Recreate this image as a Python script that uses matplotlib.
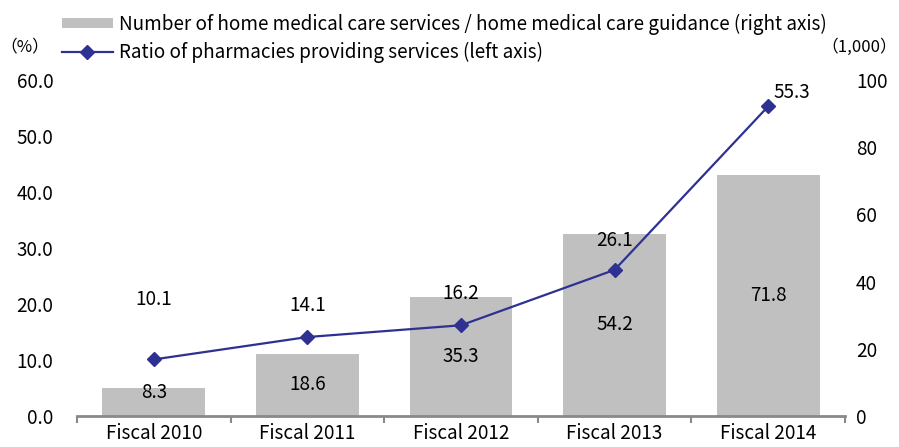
import matplotlib
matplotlib.use("Agg")
import matplotlib.pyplot as plt
import numpy as np

plt.rcParams['font.family'] = ['Noto Sans CJK JP', 'DejaVu Sans']

categories = ["Fiscal 2010", "Fiscal 2011", "Fiscal 2012", "Fiscal 2013", "Fiscal 2014"]
services_k = [8.3, 18.6, 35.3, 54.2, 71.8]       # right axis (1,000)
ratio_pct = [10.1, 14.1, 16.2, 26.1, 55.3]       # left axis (%)
left_ticks = [0, 10, 20, 30, 40, 50, 60]
right_ticks = [0, 20, 40, 60, 80, 100]

bar_color = "#C0C0C0"
line_color = "#2E3192"
fs = 13.6

fig = plt.figure(figsize=(8.99, 4.47), dpi=100)
ax = fig.add_axes([77/899, 31/447, (845-77)/899, (416-80)/447])
ax2 = ax.twinx()

x = np.arange(len(categories))
ax2.bar(x, services_k, width=0.67, color=bar_color, zorder=1,
        label="Number of home medical care services / home medical care guidance (right axis)")
ax2.set_ylim(0, 100)
ax2.set_yticks(right_ticks)
ax2.set_yticklabels([str(t) for t in right_ticks], fontsize=fs)

ax.set_zorder(ax2.get_zorder() + 1)
ax.patch.set_visible(False)
ax.plot(x, ratio_pct, color=line_color, lw=1.6, marker="D", markersize=7,
        label="Ratio of pharmacies providing services (left axis)")
ax.set_ylim(0, 60)
ax.set_yticks(left_ticks)
ax.set_yticklabels([f"{t:.1f}" for t in left_ticks], fontsize=fs)
ax.set_xlim(-0.5, len(categories) - 0.5)

# category boundary ticks
ax.set_xticks(np.arange(-0.5, len(categories), 1.0))
ax.set_xticklabels([])
ax.set_xticks(x, minor=True)
ax.set_xticklabels(categories, minor=True, fontsize=fs)
ax.tick_params(axis="x", which="minor", length=0, pad=5)
ax.tick_params(axis="x", which="major", length=5, width=1.5, color="#898989", direction="out")
ax.tick_params(axis="y", length=0, pad=17)
ax2.tick_params(axis="y", length=0, pad=8)

for a in (ax, ax2):
    for s in ("top", "left", "right"):
        a.spines[s].set_visible(False)
    a.spines["bottom"].set_color("#898989")
    a.spines["bottom"].set_linewidth(2)
ax2.spines["bottom"].set_visible(False)

# bar labels (centered in bars)
for xi, v in zip(x, services_k):
    ypos = max(v / 2, 7.0)
    ax2.text(xi, ypos, f"{v:.1f}", ha="center", va="center", fontsize=fs)

# line labels
offsets = [(0, 43), (0, 23), (0, 23), (0, 21), (4, 10)]
for xi, v, off in zip(x, ratio_pct, offsets):
    ax.annotate(f"{v:.1f}", (xi, v), xytext=off, textcoords="offset points",
                ha="center" if off[0] == 0 else "left", va="center", fontsize=fs)

# unit labels
fig.text(0/899, 1 - 47/447, "（%）", fontsize=fs - 1.5, ha="left", va="center")
fig.text(897/899, 1 - 47/447, "（1,000）", fontsize=fs - 1.5, ha="right", va="center")

h1, l1 = ax2.get_legend_handles_labels()
h2, l2 = ax.get_legend_handles_labels()
fig.legend(h1 + h2, l1 + l2, loc="upper left", bbox_to_anchor=(54/899, 1 - 6/447),
           frameon=False, fontsize=fs, handlelength=2.7, handleheight=0.5,
           labelspacing=0.4, handletextpad=0.35, borderaxespad=0)

fig.savefig("out.png", dpi=100)
